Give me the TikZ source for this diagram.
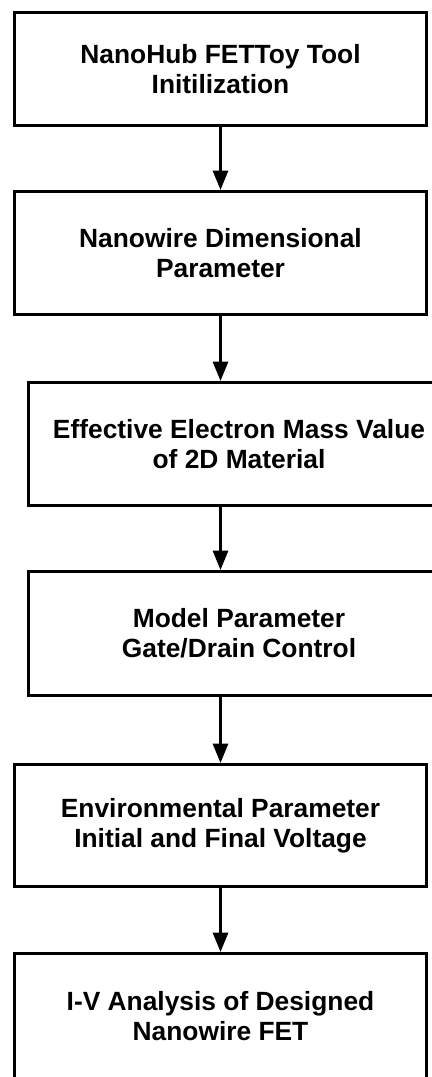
\documentclass[tikz,border=0pt]{standalone}
\usepackage{fontspec}
\setmainfont{Liberation Sans}
\usetikzlibrary{arrows.meta}

\tikzset{
  stepbox/.style={draw, line width=1.7pt, align=center, inner sep=0pt,
    font=\fontsize{15}{17}\selectfont\bfseries},
  flowarrow/.style={line width=1.7pt, -{Triangle[width=8.5pt,length=11pt]}}
}

\begin{document}
\begin{tikzpicture}[x=0.02cm,y=-0.02cm]
    \useasboundingbox (0,0) rectangle (432,1077);
    \clip (0,0) rectangle (432,1077);

    % Schritte
    \node[stepbox, minimum width=8.24cm, minimum height=2.26cm] (init) at (220.5,69) {NanoHub FETToy Tool\\Initilization};
    \node[stepbox, minimum width=8.24cm, minimum height=2.46cm] (dim) at (220.5,253) {Nanowire Dimensional\\Parameter};
    \node[stepbox, minimum width=8.42cm, minimum height=2.46cm] (mass) at (239,444) {Effective Electron Mass Value\\of 2D Material};
    \node[stepbox, minimum width=8.42cm, minimum height=2.48cm] (model) at (239,633.5) {Model Parameter\\Gate/Drain Control};
    \node[stepbox, minimum width=8.24cm, minimum height=2.44cm] (env) at (220.5,825.5) {Environmental Parameter\\Initial and Final Voltage};
    \node[stepbox, minimum width=8.24cm, minimum height=2.5cm] (iv) at (220.5,1016) {I-V Analysis of Designed\\Nanowire FET};

    % Pfeile
    \draw[flowarrow] (init.south) -- (dim.north);
    \draw[flowarrow] (dim.south) -- (dim.south |- mass.north);
    \draw[flowarrow] (mass.south -| dim.south) -- (dim.south |- model.north);
    \draw[flowarrow] (model.south -| env.north) -- (env.north);
    \draw[flowarrow] (env.south) -- (iv.north);
\end{tikzpicture}
\end{document}
